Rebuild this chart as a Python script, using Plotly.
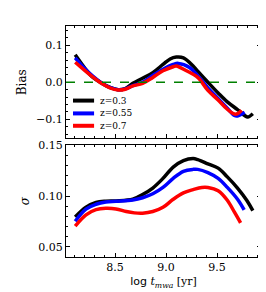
import plotly.graph_objects as go
from plotly.subplots import make_subplots

# ---- data ----
labels = ["z=0.3", "z=0.55", "z=0.7"]
colors = ["black", "blue", "red"]

bias_x_03 = [8.11, 8.2, 8.265, 8.38, 8.45, 8.53, 8.6, 8.675, 8.77, 8.87, 8.97, 9.04, 9.1, 9.17, 9.265, 9.31, 9.41, 9.51, 9.6, 9.705, 9.77, 9.8, 9.85]
bias_y_03 = [0.0745, 0.04, 0.018, -0.004, -0.014, -0.02, -0.017, -0.003, 0.011, 0.026, 0.048, 0.063, 0.068, 0.066, 0.044, 0.03, 0.0, -0.029, -0.053, -0.075, -0.09, -0.094, -0.085]

bias_x_055 = [8.11, 8.2, 8.265, 8.38, 8.45, 8.53, 8.6, 8.675, 8.77, 8.87, 8.97, 9.07, 9.12, 9.23, 9.31, 9.41, 9.51, 9.6, 9.67, 9.7, 9.77]
bias_y_055 = [0.066, 0.038, 0.021, -0.004, -0.014, -0.02, -0.018, -0.009, 0.0, 0.018, 0.035, 0.048, 0.051, 0.04, 0.018, -0.015, -0.044, -0.07, -0.09, -0.091, -0.081]

bias_x_07 = [8.11, 8.2, 8.265, 8.38, 8.45, 8.53, 8.6, 8.675, 8.77, 8.87, 8.97, 9.07, 9.1, 9.2, 9.31, 9.41, 9.51, 9.6, 9.67, 9.7, 9.74]
bias_y_07 = [0.054, 0.033, 0.018, -0.005, -0.015, -0.021, -0.019, -0.01, -0.003, 0.013, 0.031, 0.042, 0.044, 0.031, 0.013, -0.022, -0.048, -0.073, -0.086, -0.085, -0.076]

sig_x_03 = [8.11, 8.216, 8.314, 8.41, 8.51, 8.674, 8.77, 8.87, 8.97, 9.07, 9.17, 9.265, 9.31, 9.41, 9.51, 9.6, 9.7, 9.79, 9.85]
sig_y_03 = [0.0794, 0.089, 0.0937, 0.095, 0.0953, 0.0969, 0.1016, 0.108, 0.1175, 0.1286, 0.135, 0.137, 0.136, 0.1318, 0.1276, 0.119, 0.108, 0.096, 0.0857]

sig_x_055 = [8.11, 8.216, 8.314, 8.41, 8.51, 8.674, 8.77, 8.87, 8.97, 9.07, 9.17, 9.265, 9.31, 9.41, 9.51, 9.6, 9.7, 9.765]
sig_y_055 = [0.0753, 0.0873, 0.092, 0.0943, 0.095, 0.0962, 0.0984, 0.1023, 0.1086, 0.1175, 0.1245, 0.1264, 0.1264, 0.1232, 0.1175, 0.1086, 0.0969, 0.0864]

sig_x_07 = [8.11, 8.216, 8.314, 8.41, 8.51, 8.61, 8.69, 8.77, 8.87, 8.97, 9.07, 9.17, 9.265, 9.35, 9.41, 9.51, 9.6, 9.67, 9.73]
sig_y_07 = [0.0705, 0.0816, 0.0867, 0.088, 0.0874, 0.0848, 0.0835, 0.0832, 0.0848, 0.089, 0.0969, 0.1032, 0.1064, 0.1086, 0.1086, 0.1054, 0.096, 0.0842, 0.0737]

bias_series = [(bias_x_03, bias_y_03), (bias_x_055, bias_y_055), (bias_x_07, bias_y_07)]
sig_series = [(sig_x_03, sig_y_03), (sig_x_055, sig_y_055), (sig_x_07, sig_y_07)]

xticks = [8.5, 9.0, 9.5]
bias_ticks = [-0.1, 0.0, 0.1]
sig_ticks = [0.05, 0.10, 0.15]

FONT = "DejaVu Serif"

fig = make_subplots(rows=2, cols=1, shared_xaxes=False, vertical_spacing=0.03)

for (x, y), c, lab in zip(bias_series, colors, labels):
    fig.add_trace(go.Scatter(x=x, y=y, mode="lines", name=lab,
                             line=dict(color=c, width=3.5, shape="spline", smoothing=1),
                             showlegend=False), row=1, col=1)
for (x, y), c, lab in zip(sig_series, colors, labels):
    fig.add_trace(go.Scatter(x=x, y=y, mode="lines", name=lab,
                             line=dict(color=c, width=3.5, shape="spline", smoothing=1),
                             showlegend=False), row=2, col=1)

fig.add_hline(y=0, line=dict(color="#008000", width=1.5, dash="dash"), row=1, col=1)

# manual compact legend
leg_y = [0.337, 0.223, 0.113]
for c, lab, ly in zip(colors, labels, leg_y):
    fig.add_shape(type="line", xref="x domain", yref="y domain",
                  x0=0.036, x1=0.144, y0=ly, y1=ly,
                  line=dict(color=c, width=4))
    fig.add_annotation(xref="x domain", yref="y domain", x=0.165, y=ly,
                       text=lab, showarrow=False, xanchor="left", yanchor="middle",
                       font=dict(family=FONT, size=9, color="black"))

axis_common = dict(showline=True, linecolor="black", linewidth=1, mirror="ticks",
                   ticks="inside", ticklen=4, tickwidth=1, tickcolor="black",
                   showgrid=False, zeroline=False,
                   tickfont=dict(family=FONT, size=11, color="black"))

fig.update_xaxes(range=[8.02, 9.93], tickvals=xticks, tickformat=".1f",
                 minor=dict(dtick=0.1, tick0=8.0, ticklen=2, ticks="inside", tickcolor="black", showgrid=False),
                 **axis_common)
fig.update_xaxes(showticklabels=False, row=1, col=1)
fig.update_xaxes(row=2, col=1,
                 title=dict(text="<span style='font-family:DejaVu Sans'>log</span> <i>t</i><sub><i>mwa</i></sub> [yr]",
                            font=dict(family=FONT, size=11, color="black"), standoff=4))

fig.update_yaxes(row=1, col=1, range=[-0.152, 0.152], tickvals=bias_ticks, tickformat=".1f",
                 minor=dict(dtick=0.02, tick0=0, ticklen=2, ticks="inside", tickcolor="black", showgrid=False),
                 title=dict(text="Bias", font=dict(family=FONT, size=12, color="black"), standoff=6),
                 **axis_common)
fig.update_yaxes(row=2, col=1, range=[0.04, 0.15], tickvals=sig_ticks, tickformat=".2f",
                 minor=dict(dtick=0.01, tick0=0, ticklen=2, ticks="inside", tickcolor="black", showgrid=False),
                 title=dict(text="<i>σ</i>", font=dict(family=FONT, size=12, color="black"), standoff=6),
                 **axis_common)

fig.update_layout(
    width=266, height=292,
    margin=dict(l=58, r=13, t=13, b=43),
    plot_bgcolor="white", paper_bgcolor="white",
    showlegend=False,
)
fig.layout.yaxis.domain = [0.513, 1.0]
fig.layout.yaxis2.domain = [0.0, 0.483]

fig.write_html("out.html")
